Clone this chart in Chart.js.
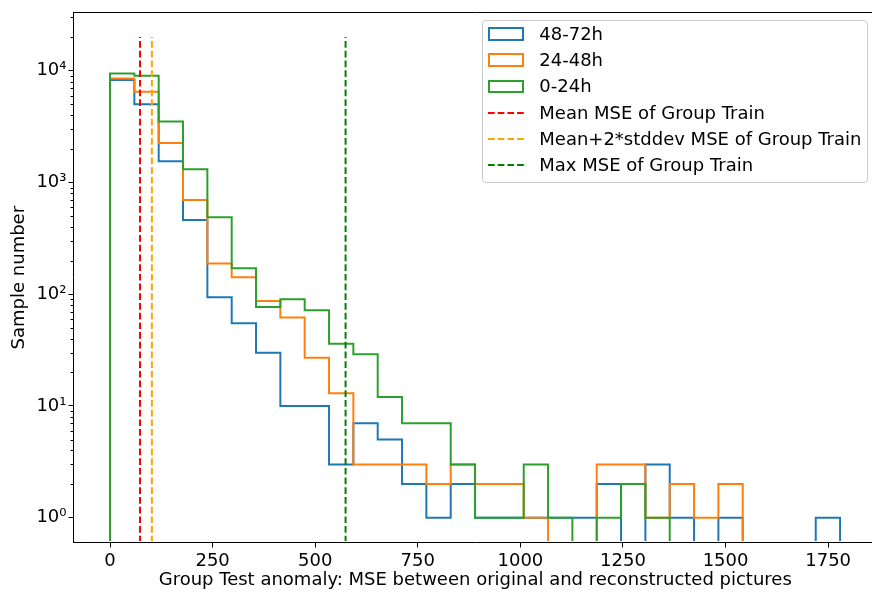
<!DOCTYPE html>
<html>
<head>
<meta charset="utf-8">
<script src="https://cdn.jsdelivr.net/npm/chart.js@4.4.1/dist/chart.umd.min.js"></script>
<style>
  html, body { margin: 0; padding: 0; background: #fff; overflow: hidden; }
  #wrap { position: relative; width: 877px; height: 595px; }
  #legend {
    position: absolute; left: 481.5px; top: 19.5px; width: 386px; height: 163px;
    box-sizing: border-box; border: 1px solid #cccccc; border-radius: 4px;
    background: rgba(255, 255, 255, 0.8);
    font-family: "DejaVu Sans"; font-size: 18px; color: #000;
  }
  .row { position: absolute; left: 0; height: 20px; line-height: 20px; white-space: nowrap; }
  .box { position: absolute; left: 5.8px; top: 3.3px; width: 35.7px; height: 13.4px; box-sizing: border-box; border: 2px solid; }
  .dash { position: absolute; left: 5.8px; top: 8px; }
  .txt { position: absolute; left: 56.8px; top: 0; }
</style>
</head>
<body>
<div id="wrap">
  <canvas id="graph01" width="877" height="595"></canvas>
  <div id="legend"></div>
</div>
<script>
// histogram bin edges (30 bins)
const binEdges = [
  0, 59.3, 118.6, 177.9, 237.2, 296.5, 355.8, 415.1, 474.4, 533.7, 593,
  652.3, 711.6, 770.9, 830.2, 889.5, 948.8, 1008.1, 1067.4, 1126.7, 1186,
  1245.3, 1304.6, 1363.9, 1423.2, 1482.5, 1541.8, 1601.1, 1660.4, 1719.7, 1779,
];

// sample counts per bin
const counts48to72 = [
  8250, 5010, 1550, 462, 94, 55, 30, 10, 10, 3, 7, 5, 2, 1, 2, 1, 1, 1, 1, 1,
  2, 0, 3, 1, 0, 1, 0, 0, 0, 1,
];
const counts24to48 = [
  8540, 6500, 2260, 697, 188, 142, 87, 62, 27, 13, 3, 3, 3, 2, 3, 2, 2, 1, 0, 0,
  3, 3, 1, 2, 1, 2, 0, 0, 0, 0,
];
const counts0to24 = [
  9460, 9020, 3520, 1315, 488, 171, 77, 90, 72, 36, 29, 12, 7, 7, 3, 1, 1, 3, 1, 0,
  1, 2, 1, 0, 0, 0, 0, 0, 0, 0,
];

// group train thresholds
const meanMSE = 73;
const mean2StdMSE = 102;
const maxMSE = 574;
const vlineTop = 20000;

const xTicks = [0, 250, 500, 750, 1000, 1250, 1500, 1750];
const yTicks = [1, 10, 100, 1000, 10000];
const yTickLabels = ["10⁰", "10¹", "10²", "10³", "10⁴"];
const yMinorTicks = [
  2, 3, 4, 5, 6, 7, 8, 9, 20, 30, 40, 50, 60, 70, 80, 90, 200, 300, 400, 500,
  600, 700, 800, 900, 2000, 3000, 4000, 5000, 6000, 7000, 8000, 9000, 20000, 30000,
];

const Y_MIN = 0.6;
const Y_MAX = 33000;
const X_MIN = -89;
const X_MAX = 1869;

// log axis can't show 0, so empty bins sit on the axis floor (like matplotlib clip)
function stepPoints(counts) {
  const pts = [{ x: binEdges[0], y: Y_MIN }];
  counts.forEach((c, i) => pts.push({ x: binEdges[i], y: c > 0 ? c : Y_MIN }));
  pts.push({ x: binEdges[counts.length], y: Y_MIN });
  return pts;
}

function vline(x) {
  return [{ x: x, y: Y_MIN }, { x: x, y: vlineTop }];
}

const histClip = { left: 2, top: 2, right: 2, bottom: -1.5 };

function histSet(label, counts, color, order) {
  return {
    type: "line",
    label: label,
    data: stepPoints(counts),
    stepped: "before",
    borderColor: color,
    backgroundColor: color,
    borderWidth: 2,
    pointRadius: 0,
    fill: false,
    order: order,
    clip: histClip,
  };
}

function vlineSet(label, x, color) {
  return {
    type: "line",
    label: label,
    data: vline(x),
    borderColor: color,
    backgroundColor: color,
    borderWidth: 2,
    borderDash: [6.7, 3],
    pointRadius: 0,
    fill: false,
    order: 0,
    clip: histClip,
  };
}

const minorTicks = {
  id: "minorTicks",
  afterDraw(chart) {
    const y = chart.scales.y;
    const ctx = chart.ctx;
    const x0 = chart.chartArea.left;
    ctx.save();
    ctx.strokeStyle = "#000";
    ctx.lineWidth = 1;
    yMinorTicks.forEach((v) => {
      if (v < y.min || v > y.max) return;
      const py = Math.round(y.getPixelForValue(v)) + 0.5;
      ctx.beginPath();
      ctx.moveTo(x0 - 3, py);
      ctx.lineTo(x0, py);
      ctx.stroke();
    });
    ctx.restore();
  },
};

Chart.defaults.font.family = "DejaVu Sans";
Chart.defaults.font.size = 18;
Chart.defaults.color = "#000";

const graph01 = document.getElementById("graph01");

const myChart01 = new Chart(graph01, {
  type: "line",
  data: {
    datasets: [
      histSet("48-72h", counts48to72, "#1f77b4", 3),
      histSet("24-48h", counts24to48, "#ff7f0e", 2),
      histSet("0-24h", counts0to24, "#2ca02c", 1),
      vlineSet("Mean MSE of Group Train", meanMSE, "#ff0000"),
      vlineSet("Mean+2*stddev MSE of Group Train", mean2StdMSE, "#ffa500"),
      vlineSet("Max MSE of Group Train", maxMSE, "#008000"),
    ],
  },
  options: {
    responsive: false,
    animation: false,
    layout: { padding: { top: 10, left: 0, right: 0, bottom: 0 } },
    plugins: {
      legend: { display: false },
      tooltip: { enabled: false },
    },
    scales: {
      x: {
        type: "linear",
        position: "bottom",
        min: X_MIN,
        max: X_MAX,
        afterBuildTicks: (s) => {
          s.ticks = xTicks.map((v) => ({ value: v }));
        },
        afterFit: (s) => {
          s.height = 52.5;
        },
        grid: {
          drawOnChartArea: false,
          tickLength: 5,
          tickColor: "#000",
          tickWidth: 1,
        },
        border: { display: true, color: "#000", width: 1 },
        ticks: {
          padding: 3,
          maxRotation: 0,
          autoSkip: false,
          callback: (value) => String(value),
        },
        title: {
          display: true,
          text: "Group Test anomaly: MSE between original and reconstructed pictures",
          padding: { top: 0, bottom: 3.6 },
        },
      },
      x2: {
        type: "linear",
        position: "top",
        min: X_MIN,
        max: X_MAX,
        afterFit: (s) => {
          s.height = 0;
        },
        grid: { drawOnChartArea: false, drawTicks: false },
        border: { display: true, color: "#000", width: 1 },
        ticks: { display: false },
      },
      y: {
        type: "logarithmic",
        position: "left",
        min: Y_MIN,
        max: Y_MAX,
        afterBuildTicks: (s) => {
          s.ticks = yTicks.map((v) => ({ value: v, major: true }));
        },
        afterFit: (s) => {
          s.width = 73.5;
        },
        grid: {
          drawOnChartArea: false,
          tickLength: 5,
          tickColor: "#000",
          tickWidth: 1,
        },
        border: { display: true, color: "#000", width: 1 },
        ticks: {
          padding: 2,
          autoSkip: false,
          callback: (value, index) => yTickLabels[index],
        },
        title: {
          display: true,
          text: "Sample number",
          padding: { top: 8.7, bottom: 0 },
        },
      },
    },
  },
  plugins: [minorTicks],
});

// legend, in dataset order like matplotlib
const legendEl = document.getElementById("legend");
myChart01.data.datasets.forEach((ds, i) => {
  const row = document.createElement("div");
  row.className = "row";
  row.style.top = 3.5 + i * 26.2 + "px";
  let swatch;
  if (ds.borderDash) {
    swatch =
      '<svg class="dash" width="36" height="4"><line x1="0" y1="2" x2="36" y2="2" stroke="' +
      ds.borderColor + '" stroke-width="2" stroke-dasharray="6.7 3"/></svg>';
  } else {
    swatch = '<span class="box" style="border-color:' + ds.borderColor + '"></span>';
  }
  row.innerHTML = swatch + '<span class="txt">' + ds.label + "</span>";
  legendEl.appendChild(row);
});
</script>
</body>
</html>
